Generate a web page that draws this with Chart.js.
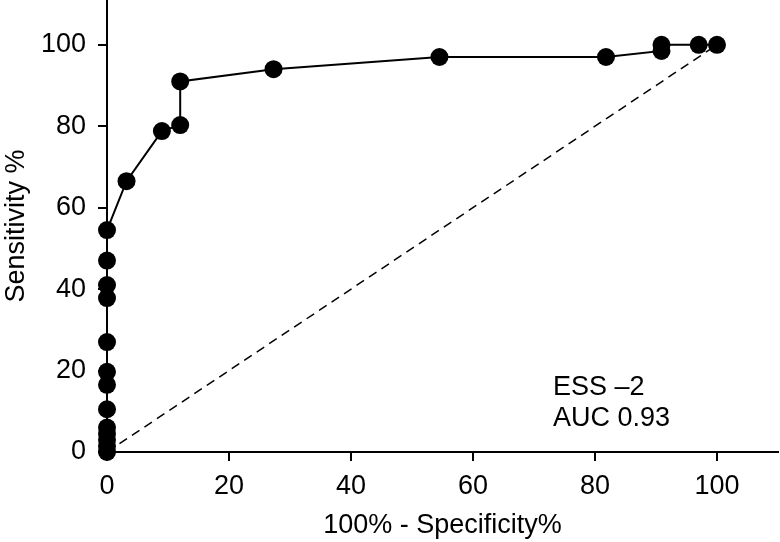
<!DOCTYPE html>
<html>
<head>
<meta charset="utf-8">
<script src="https://cdn.jsdelivr.net/npm/chart.js@4.4.0/dist/chart.umd.min.js"></script>
<style>
  html, body { margin: 0; padding: 0; background: #fff; }
</style>
</head>
<body>
<canvas id="roc" width="780" height="542"></canvas>
<script>
// ROC curve values (100% - specificity, sensitivity)
var fpr  = [0, 0, 0, 0, 0, 0, 0, 0, 0, 0, 0, 0, 0, 3.2, 9, 12, 12, 27.3, 54.5, 81.8, 90.9, 90.9, 97, 100];
var sens = [0, 1.5, 3, 4.5, 6, 10.5, 16.5, 19.7, 27, 37.8, 41, 47, 54.5, 66.5, 78.8, 80.3, 91, 94, 97, 97, 98.5, 100, 100, 100];

// reference diagonal
var diagX = [0, 100];
var diagY = [0, 100];

var tickValues = [0, 20, 40, 60, 80, 100];
var xTitle = '100% - Specificity%';
var yTitle = 'Sensitivity %';
var noteLines = ['ESS \u20132', 'AUC 0.93'];

var FONT = '"Liberation Sans", Arial, Helvetica, sans-serif';
var SIZE = 27;

function toPoints(xs, ys) {
  var pts = [];
  for (var i = 0; i < xs.length; i++) pts.push({x: xs[i], y: ys[i]});
  return pts;
}

function keepTicks(scale) {
  scale.ticks = tickValues.map(function (v) { return {value: v}; });
}

// text in the lower right corner
var notePlugin = {
  id: 'note',
  afterDatasetsDraw: function (chart) {
    var c = chart.ctx;
    var xs = chart.scales.x, ys = chart.scales.y;
    c.save();
    c.font = SIZE + 'px ' + FONT;
    c.fillStyle = '#000';
    c.textAlign = 'left';
    c.textBaseline = 'alphabetic';
    var left = xs.getPixelForValue(73.1);
    c.fillText(noteLines[0], left, ys.getPixelForValue(14));
    c.fillText(noteLines[1], left, ys.getPixelForValue(6.4));
    c.restore();
  }
};

var axisGrid = {
  display: true,
  drawOnChartArea: false,
  drawTicks: true,
  tickLength: 9,
  color: '#000',
  lineWidth: 2
};

new Chart(document.getElementById('roc').getContext('2d'), {
  type: 'scatter',
  data: {
    datasets: [
      {
        data: toPoints(fpr, sens),
        showLine: true,
        borderColor: '#000',
        borderWidth: 2,
        backgroundColor: '#000',
        pointRadius: 9,
        pointBorderWidth: 0,
        clip: false
      },
      {
        data: toPoints(diagX, diagY),
        showLine: true,
        borderColor: '#000',
        borderWidth: 1.5,
        borderDash: [9, 6],
        pointRadius: 0,
        clip: false
      }
    ]
  },
  options: {
    responsive: false,
    animation: false,
    layout: { autoPadding: false, padding: { top: 0, left: 0, right: 2, bottom: 0 } },
    plugins: { legend: { display: false }, tooltip: { enabled: false } },
    scales: {
      x: {
        type: 'linear',
        min: 0,
        max: 110,
        grid: axisGrid,
        border: { display: true, color: '#000', width: 2 },
        ticks: { stepSize: 20, includeBounds: false, color: '#000', padding: 9, maxRotation: 0,
                 font: { family: FONT, size: SIZE } },
        title: { display: true, text: xTitle, color: '#000', padding: { top: 0, bottom: 0 },
                 font: { family: FONT, size: SIZE } },
        afterBuildTicks: keepTicks,
        afterFit: function (s) { s.height = 90; s.paddingLeft = 0; s.paddingRight = 0; }
      },
      y: {
        type: 'linear',
        min: 0,
        max: 111,
        grid: axisGrid,
        border: { display: true, color: '#000', width: 2 },
        ticks: { stepSize: 20, includeBounds: false, color: '#000', padding: 12,
                 font: { family: FONT, size: SIZE } },
        title: { display: true, text: yTitle, color: '#000', padding: { top: 0, bottom: 0 },
                 font: { family: FONT, size: SIZE } },
        afterBuildTicks: keepTicks,
        afterFit: function (s) { s.width = 107; s.paddingTop = 0; s.paddingBottom = 0; }
      }
    }
  },
  plugins: [notePlugin]
});
</script>
</body>
</html>
